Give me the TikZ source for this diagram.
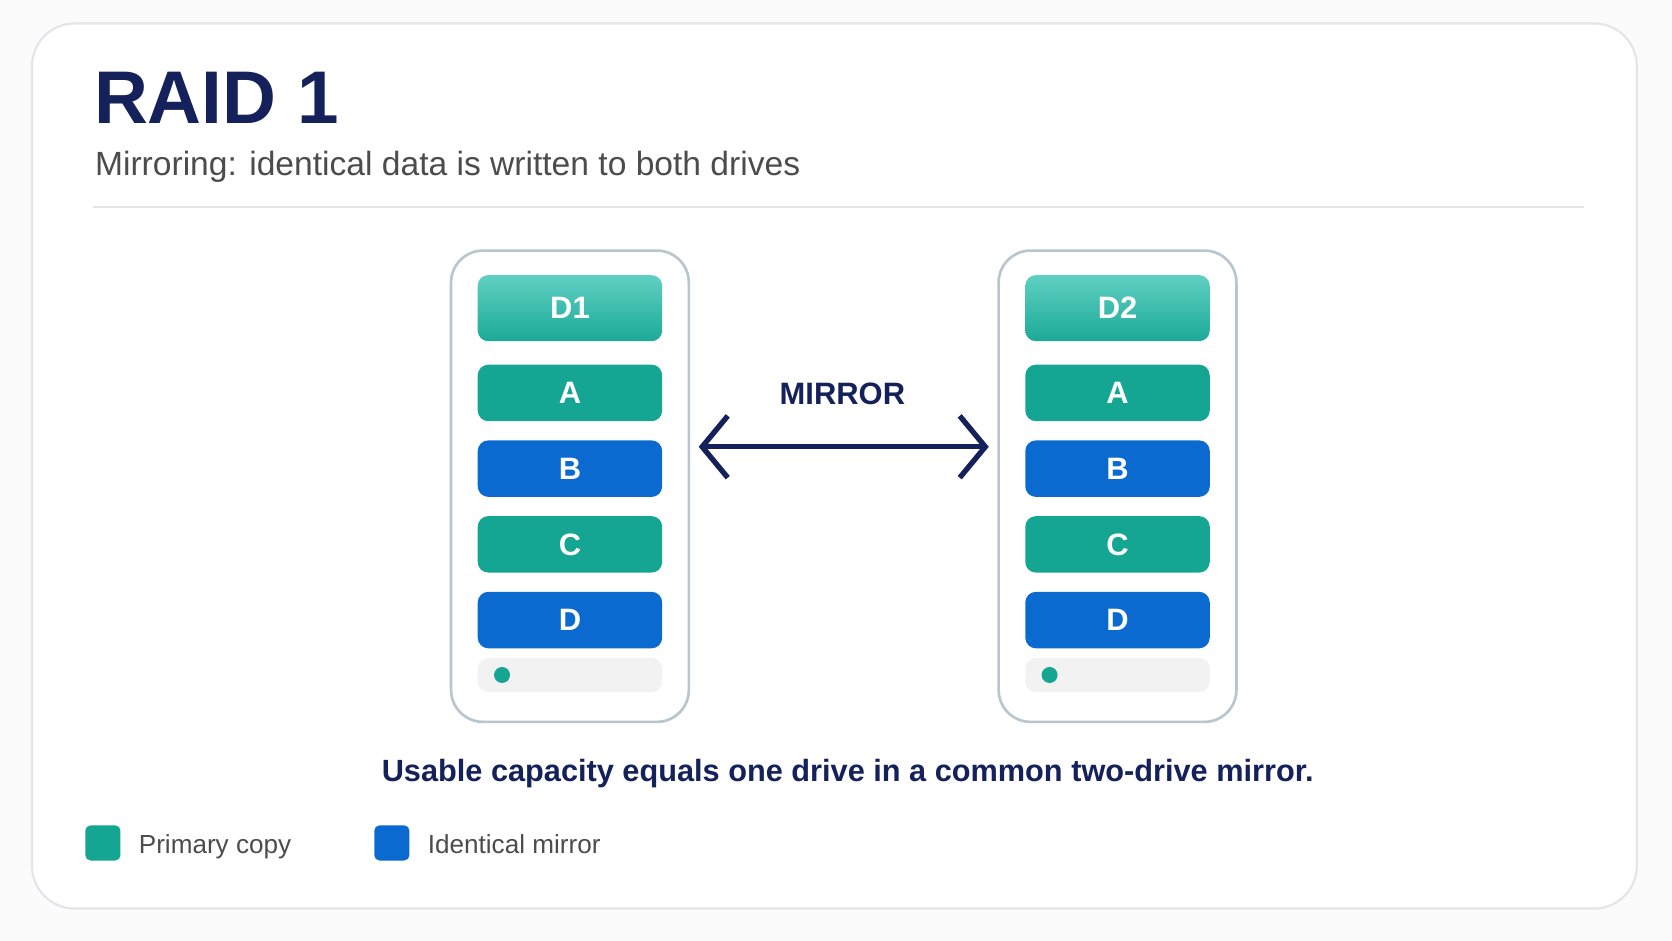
\documentclass[tikz,border=0pt]{standalone}
\usepackage{fontspec}
\setmainfont{Liberation Sans}
\usetikzlibrary{arrows.meta,positioning}
\definecolor{navy}{HTML}{14215A}
\definecolor{teal}{HTML}{14A593}
\definecolor{tealhi}{HTML}{5FD0C2}
\definecolor{blu}{HTML}{0A6ACF}
\definecolor{frame}{HTML}{BAC6CE}
\definecolor{cardline}{HTML}{E3E5E8}
\tikzset{
  drive/.style={draw=frame,line width=2.5pt,fill=white,rounded corners=30pt,minimum width=223pt,minimum height=442pt},
  blk/.style={rounded corners=10pt,minimum width=173pt,minimum height=53pt,text=white,font=\fontsize{29}{30}\selectfont\bfseries},
  hdr/.style={blk,minimum height=62pt,top color=tealhi,bottom color=teal!90!tealhi},
  prim/.style={blk,fill=teal},
  mirr/.style={blk,fill=blu},
  status/.style={rounded corners=10pt,fill=gray!10,minimum width=173pt,minimum height=32pt},
  led/.style={circle,fill=teal,minimum size=15pt,inner sep=0pt},
  key/.style={rounded corners=5pt,minimum size=33pt,inner sep=0pt},
  keytext/.style={anchor=base west,inner sep=0pt,text=black!70,font=\fontsize{24.5}{26}\selectfont},
}
\begin{document}
\begin{tikzpicture}[x=1pt,y=-1pt]
\useasboundingbox[fill=white!97!gray] (0,0) rectangle (1568,882);
\draw[cardline,line width=2pt,fill=white,rounded corners=40pt] (30,22) rectangle (1535,852);
% heading
\node[anchor=base west,inner sep=0pt,text=navy,font=\fontsize{70}{72}\selectfont\bfseries] (title) at (88,116) {RAID 1};
\node[anchor=base west,inner sep=0pt,text=black!70,font=\fontsize{31.5}{33}\selectfont] (sub) at (89,165) {Mirroring: identical data is written to both drives};
\draw[cardline,line width=2pt] (87,194) -- (1485,194);
% drives
\foreach \n/\x in {1/534.5,2/1048} {
  \node[drive] (drive\n) at (\x,456) {};
  \node[hdr] (hdr\n) at (\x,289) {D\n};
  \node[prim] (a\n) at (\x,368.5) {A};
  \node[mirr] (b\n) at (\x,439.5) {B};
  \node[prim] (c\n) at (\x,510.5) {C};
  \node[mirr] (d\n) at (\x,581.5) {D};
  \node[status] (st\n) at (\x,633) {};
  \node[led] (led\n) at ([xshift=23pt]st\n.west) {};
}
% mirror arrow
\draw[navy,line width=5pt,{Straight Barb[length=24pt,width=58pt,line width=5pt]}-{Straight Barb[length=24pt,width=58pt,line width=5pt]}] ([xshift=8pt]drive1.east |- 0,419) -- ([xshift=-8pt]drive2.west |- 0,419);
\node[text=navy,font=\fontsize{29}{30}\selectfont\bfseries] (mirror) at (790,369) {MIRROR};
\node[text=navy,font=\fontsize{28.8}{30}\selectfont\bfseries] (cap) at (795,725) {Usable capacity equals one drive in a common two-drive mirror.};
% legend
\node[key,fill=teal] (k1) at (96.5,790.5) {};
\node[keytext] (k1t) at (130,800) {Primary copy};
\node[key,fill=blu] (k2) at (367.5,790.5) {};
\node[keytext] (k2t) at (401,800) {Identical mirror};
\end{tikzpicture}
\end{document}
